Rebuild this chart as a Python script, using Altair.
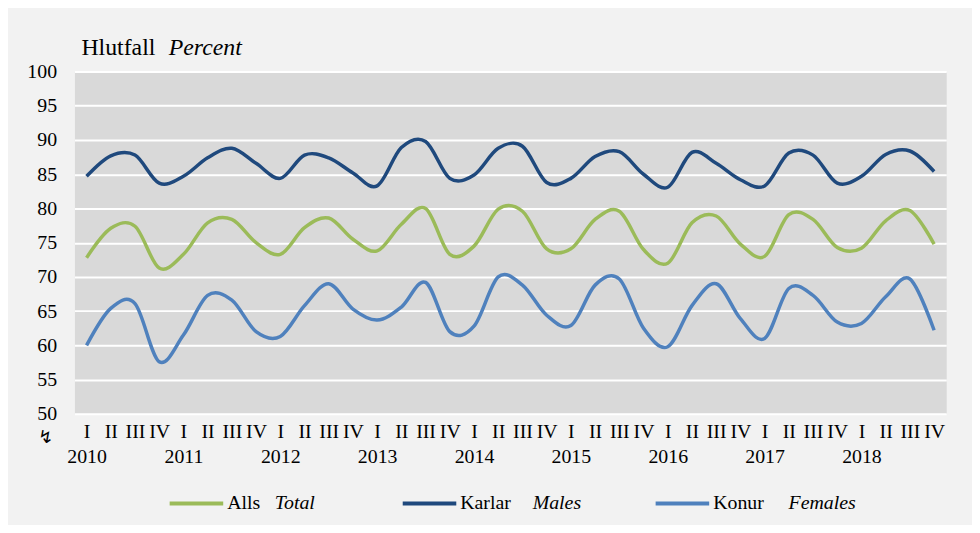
import altair as alt
import pandas as pd

# ---- data -------------------------------------------------------------
years = [str(y) for y in range(2010, 2019)]
quarters = ["I", "II", "III", "IV"]
periods = [f"{y} {q}" for y in years for q in quarters]

total = [72.8, 77.1, 77.4, 71.3,
         73.3, 77.9, 78.4, 75.0,
         73.3, 77.2, 78.6, 75.5,
         73.8, 77.7, 80.0, 73.3,
         74.5, 79.9, 79.6, 74.1,
         74.1, 78.4, 79.6, 74.0,
         72.0, 77.9, 78.9, 74.8,
         73.0, 79.1, 78.4, 74.3,
         74.2, 78.2, 79.7, 74.8]

males = [84.7, 87.7, 87.8, 83.7,
         84.7, 87.4, 88.8, 86.6,
         84.4, 87.8, 87.4, 85.2,
         83.3, 88.9, 89.8, 84.4,
         84.9, 88.8, 89.1, 83.8,
         84.4, 87.6, 88.3, 85.0,
         83.1, 88.2, 86.6, 84.2,
         83.3, 88.1, 87.8, 83.7,
         84.7, 87.9, 88.4, 85.4]

females = [60.0, 65.4, 66.1, 57.6,
           61.5, 67.3, 66.6, 62.0,
           61.3, 65.8, 69.0, 65.3,
           63.7, 65.6, 69.2, 62.0,
           62.8, 70.0, 68.8, 64.4,
           62.9, 68.8, 69.7, 62.5,
           59.8, 65.8, 69.0, 63.9,
           61.0, 68.3, 67.3, 63.4,
           63.2, 67.1, 69.7, 62.2]

series_is = ["Alls", "Karlar", "Konur"]
series_en = ["Total", "Males", "Females"]
series_colors = ["#9bbb59", "#1f497d", "#4f81bd"]
y_ticks = list(range(50, 101, 5))

rows = []
for name, vals in zip(series_is, [total, males, females]):
    for p, v in zip(periods, vals):
        rows.append({"period": p, "series": name, "value": v})
df = pd.DataFrame(rows)

FONT = "'Times New Roman', 'Liberation Serif', serif"
W, H = 879, 345

label_expr = ("split(datum.value, ' ')[1] == 'I' ? "
              "[split(datum.value, ' ')[1], split(datum.value, ' ')[0]] : "
              "split(datum.value, ' ')[1]")

lines = alt.Chart(df).mark_line(
    interpolate="cardinal", tension=0, strokeWidth=3.5
).encode(
    x=alt.X("period:O", sort=periods, title=None,
            axis=alt.Axis(labelExpr=label_expr, labelAngle=0, ticks=False,
                          domain=False, grid=False, labelFont=FONT,
                          labelFontSize=20, labelColor="black",
                          labelPadding=8, labelLineHeight=25,
                          labelOverlap=False, labelBound=False,
                          labelFlush=False)),
    y=alt.Y("value:Q", title=None,
            scale=alt.Scale(domain=[50, 100], nice=False, zero=False),
            axis=alt.Axis(values=y_ticks, ticks=False, domain=False,
                          gridColor="white", gridWidth=2, gridOpacity=1,
                          labelFont=FONT, labelFontSize=20,
                          labelColor="black", labelPadding=18)),
    color=alt.Color("series:N",
                    scale=alt.Scale(domain=series_is, range=series_colors),
                    legend=None),
)

one = alt.Data(values=[{}])


def text(t, x, y, size=20, style="normal", font=FONT, baseline="middle"):
    return alt.Chart(one).mark_text(
        text=t, font=font, fontSize=size, fontStyle=style, align="left",
        baseline=baseline, color="black"
    ).encode(x=alt.value(x), y=alt.value(y))


layers = [lines]

# axis title
layers.append(text("Hlutfall", 7, -17, size=24, baseline="alphabetic"))
layers.append(text("Percent", 95, -17, size=24, style="italic",
                   baseline="alphabetic"))

# axis break symbol
layers.append(alt.Chart(one).mark_text(
    text="\u21af", font="DejaVu Sans", fontSize=18, align="center",
    baseline="middle", color="black"
).encode(x=alt.value(-29), y=alt.value(369)))

# legend
leg_y = 435.5
leg_line_x = [96, 331, 586]
leg_is_x = [154, 389, 644]
leg_en_x = [202, 462, 720]
for c, x0, xi, xe, si, se in zip(series_colors, leg_line_x, leg_is_x,
                                 leg_en_x, series_is, series_en):
    layers.append(alt.Chart(one).mark_rule(color=c, strokeWidth=4).encode(
        x=alt.value(x0), x2=alt.value(x0 + 54), y=alt.value(leg_y)))
    layers.append(text(si, xi, leg_y))
    layers.append(text(se, xe, leg_y, style="italic"))

chart = alt.layer(*layers).properties(
    width=W, height=H,
    autosize=alt.AutoSizeParams(type="none"),
    padding={"left": 67, "top": 62, "right": 26, "bottom": 110},
    background="#f2f2f2",
).configure_view(fill="#d9d9d9", strokeOpacity=0)

chart.save("out.html", embed_options={"renderer": "svg", "actions": False})
